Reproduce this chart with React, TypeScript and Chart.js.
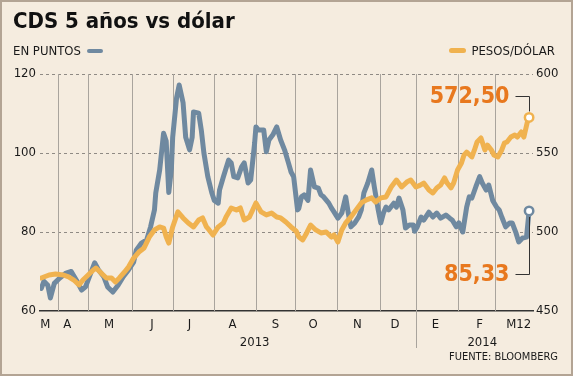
import React, { useEffect, useRef } from "react";
import { Chart, registerables } from "chart.js";

Chart.register(...registerables);

// ---- DATA (x = days from the start of the series) ----
const cdsDays = [1, 3, 6, 8, 11, 15, 20, 24, 28, 32, 35, 39, 42, 45, 49, 52, 56, 60, 64, 68, 72, 74, 78, 82, 85, 88, 89, 92, 95, 97, 99, 101, 102, 105, 107, 110, 112, 115, 117, 118, 122, 124, 126, 129, 132, 134, 137, 138, 141, 145, 147, 149, 152, 155, 157, 160, 162, 165, 166, 168, 172, 174, 176, 179, 182, 185, 188, 191, 193, 195, 198, 199, 201, 203, 206, 208, 211, 214, 216, 218, 222, 224, 226, 229, 232, 235, 237, 239, 242, 245, 247, 249, 252, 255, 257, 260, 262, 264, 266, 268, 272, 274, 276, 279, 281, 284, 287, 288, 290, 293, 295, 299, 302, 305, 308, 312, 315, 317, 320, 322, 325, 328, 330, 332, 335, 338, 340, 343, 345, 348, 351, 353, 355, 358, 361, 363, 366, 368, 371, 374, 376];
const cdsValues = [65.7, 67.5, 66.5, 63.3, 67.0, 68.3, 69.6, 70.0, 67.8, 65.3, 66.1, 69.6, 72.2, 70.4, 68.7, 66.1, 64.8, 66.5, 68.7, 70.4, 72.4, 75.4, 77.2, 78.0, 81.3, 85.6, 89.9, 95.7, 105.0, 103.0, 90.0, 96.0, 104.0, 114.0, 117.2, 112.7, 104.0, 100.8, 104.0, 110.4, 110.1, 105.8, 100.0, 94.0, 90.0, 88.0, 87.3, 90.6, 94.0, 98.2, 97.5, 94.0, 93.7, 96.5, 97.5, 92.4, 93.2, 102.5, 106.6, 105.8, 105.8, 100.3, 103.3, 104.6, 106.6, 103.3, 100.8, 97.5, 95.2, 94.0, 85.6, 86.0, 88.9, 89.4, 88.0, 95.7, 91.4, 91.1, 89.4, 88.9, 87.3, 86.1, 85.1, 83.5, 84.8, 88.9, 84.8, 81.3, 82.3, 83.8, 85.6, 89.9, 92.4, 95.7, 91.4, 85.6, 82.3, 84.8, 86.3, 85.6, 87.3, 86.3, 88.6, 85.6, 81.0, 81.8, 81.8, 80.2, 81.3, 83.8, 83.0, 85.0, 83.8, 84.8, 83.5, 84.3, 83.5, 83.0, 81.3, 82.3, 80.0, 86.3, 88.9, 88.6, 91.4, 94.0, 92.4, 90.6, 91.9, 88.0, 86.3, 85.6, 83.8, 81.3, 82.3, 82.3, 79.7, 77.5, 78.5, 78.7, 85.33];

const usdDays = [1, 7, 12, 18, 22, 26, 30, 33, 37, 41, 43, 47, 51, 55, 58, 61, 65, 68, 72, 76, 80, 84, 88, 92, 95, 97, 99, 102, 106, 110, 114, 118, 122, 125, 128, 130, 133, 137, 141, 143, 147, 151, 154, 157, 161, 166, 170, 174, 178, 182, 185, 189, 193, 197, 199, 202, 205, 208, 212, 216, 220, 224, 226, 229, 232, 235, 239, 243, 247, 251, 255, 258, 262, 266, 270, 274, 278, 282, 285, 289, 292, 295, 299, 302, 305, 308, 311, 313, 316, 318, 321, 324, 326, 328, 332, 334, 336, 339, 342, 344, 347, 349, 352, 355, 357, 359, 362, 365, 367, 370, 372, 375, 376];
const usdValues = [470.9, 472.8, 473.4, 472.8, 471.6, 469.6, 466.5, 469.6, 472.8, 476.0, 477.2, 474.0, 470.9, 470.9, 468.4, 470.9, 474.7, 477.8, 483.5, 487.3, 489.9, 496.8, 501.3, 503.2, 502.5, 497.0, 493.0, 503.2, 512.7, 508.9, 505.7, 503.2, 507.6, 508.9, 503.2, 501.3, 498.1, 503.2, 505.7, 509.5, 515.2, 513.9, 515.2, 507.6, 509.5, 518.4, 512.7, 510.8, 512.0, 509.5, 508.9, 506.3, 503.2, 500.5, 496.8, 495.0, 499.4, 504.4, 501.3, 499.4, 500.0, 496.8, 498.1, 493.7, 501.3, 505.7, 509.5, 514.0, 518.4, 520.3, 521.6, 519.0, 521.6, 522.2, 528.5, 532.9, 528.5, 531.6, 532.9, 528.5, 529.5, 531.0, 526.6, 524.7, 527.9, 529.8, 534.2, 531.0, 527.9, 531.0, 539.2, 543.7, 548.7, 550.6, 547.5, 551.9, 557.0, 559.5, 551.9, 555.0, 551.9, 548.7, 547.5, 551.9, 556.3, 557.0, 560.1, 561.4, 560.1, 563.3, 560.1, 570.9, 572.5];

const monthStarts = [14, 37, 71, 102, 134, 166, 196, 228, 261, 289, 321, 350];
const monthLabelDays = [4, 21, 53, 86, 115, 148, 181, 210, 244, 273, 304, 338, 368];
const monthLabels = ["M", "A", "M", "J", "J", "A", "S", "O", "N", "D", "E", "F", "M12"];
const yearLabels = ["2013", "2014"];
const yearLabelDays = [165, 340];
const yearBoundary = 289;
const cdsTicks = [60, 80, 100, 120];
const usdTicks = [450, 500, 550, 600];
const xMax = 379;

const BLUE = "#6f89a0";
const ORANGE = "#f0b24f";
const TAG = "#e8781e";
const BG = "#f5ecdf";
const FONT = '"DejaVu Sans Condensed", "DejaVu Sans", sans-serif';

const fmt = (v: number) => v.toFixed(2).replace(".", ",");

const decor = {
  id: "decor",
  beforeDatasetsDraw(chart: any) {
    const { ctx, chartArea, scales } = chart;
    ctx.save();
    // dashed horizontal grid
    ctx.strokeStyle = "#8f8a84";
    ctx.lineWidth = 1;
    ctx.setLineDash([3, 3]);
    cdsTicks.forEach((v) => {
      if (v === scales.y.min) return;
      const y = Math.round(scales.y.getPixelForValue(v)) + 0.5;
      ctx.beginPath();
      ctx.moveTo(chartArea.left, y);
      ctx.lineTo(chartArea.right, y);
      ctx.stroke();
    });
    ctx.setLineDash([]);
    // solid month separators
    ctx.strokeStyle = "#a9a49d";
    monthStarts.forEach((d) => {
      const x = Math.round(scales.x.getPixelForValue(d)) + 0.5;
      ctx.beginPath();
      ctx.moveTo(x, chartArea.top);
      ctx.lineTo(x, d === yearBoundary ? chartArea.bottom + 37 : chartArea.bottom);
      ctx.stroke();
    });
    ctx.restore();
  },
  afterDatasetsDraw(chart: any) {
    const { ctx, scales, chartArea } = chart;
    ctx.save();
    const tag = (dsIndex: number, text: string, dy: number) => {
      const meta = chart.getDatasetMeta(dsIndex);
      const pt = meta.data[meta.data.length - 1];
      const ly = Math.round(pt.y + dy) + 0.5;
      const px = Math.round(pt.x) + 0.5;
      ctx.strokeStyle = "#333";
      ctx.lineWidth = 1;
      ctx.beginPath();
      ctx.moveTo(px - 14, ly);
      ctx.lineTo(px, ly);
      ctx.lineTo(px, pt.y + (dy < 0 ? -6 : 6));
      ctx.stroke();
      ctx.fillStyle = TAG;
      ctx.font = `bold 23px ${FONT}`;
      ctx.textAlign = "right";
      ctx.textBaseline = "middle";
      ctx.fillText(text, px - 20, ly + 1);
    };
    tag(0, fmt(usdValues[usdValues.length - 1]), -21);
    tag(1, fmt(cdsValues[cdsValues.length - 1]), 63);
    [0, 1].forEach((i) => {
      const meta = chart.getDatasetMeta(i);
      const pt = meta.data[meta.data.length - 1];
      ctx.beginPath();
      ctx.arc(pt.x, pt.y, 4.2, 0, Math.PI * 2);
      ctx.fillStyle = "#fff";
      ctx.fill();
      ctx.lineWidth = 2.5;
      ctx.strokeStyle = i === 0 ? ORANGE : BLUE;
      ctx.stroke();
    });
    ctx.fillStyle = "#1a1a1a";
    ctx.font = `13px ${FONT}`;
    ctx.textAlign = "center";
    ctx.textBaseline = "middle";
    yearLabels.forEach((t, i) => {
      ctx.fillText(t, scales.x.getPixelForValue(yearLabelDays[i]), chartArea.bottom + 32);
    });
    ctx.restore();
  },
};

export default function App() {
  const ref = useRef<HTMLCanvasElement>(null);
  useEffect(() => {
    document.body.style.margin = "0";
    const chart = new Chart(ref.current as HTMLCanvasElement, {
      type: "line",
      data: {
        datasets: [
          {
            data: usdDays.map((d, i) => ({ x: d, y: usdValues[i] })),
            yAxisID: "y1",
            borderColor: ORANGE,
            borderWidth: 5,
            borderJoinStyle: "round",
            borderCapStyle: "round",
            pointRadius: 0,
            tension: 0,
          },
          {
            data: cdsDays.map((d, i) => ({ x: d, y: cdsValues[i] })),
            yAxisID: "y",
            borderColor: BLUE,
            borderWidth: 5,
            borderJoinStyle: "round",
            borderCapStyle: "round",
            pointRadius: 0,
            tension: 0,
          },
        ],
      },
      options: {
        animation: false,
        responsive: false,
        devicePixelRatio: 1,
        layout: { padding: { top: 74, left: 0, right: 0, bottom: 0 } },
        plugins: { legend: { display: false }, tooltip: { enabled: false } },
        scales: {
          x: {
            type: "linear",
            min: 0,
            max: xMax,
            afterBuildTicks: (s: any) => {
              s.ticks = monthLabelDays.map((v) => ({ value: v }));
            },
            afterFit: (s: any) => {
              s.height = 65;
            },
            grid: { display: false, drawTicks: false },
            border: { display: true, color: "#333", width: 1.5 },
            ticks: {
              autoSkip: false,
              maxRotation: 0,
              padding: 6,
              color: "#1a1a1a",
              font: { family: FONT, size: 13 },
              callback: (_v: any, i: number) => monthLabels[i],
            },
          },
          y: {
            position: "left",
            min: 60,
            max: 120,
            afterBuildTicks: (s: any) => {
              s.ticks = cdsTicks.map((v) => ({ value: v }));
            },
            afterFit: (s: any) => {
              s.width = 40;
            },
            border: { display: false },
            grid: { display: false, drawTicks: false },
            ticks: {
              padding: 4,
              color: "#1a1a1a",
              font: { family: FONT, size: 13 },
            },
          },
          y1: {
            position: "right",
            min: 450,
            max: 600,
            afterBuildTicks: (s: any) => {
              s.ticks = usdTicks.map((v) => ({ value: v }));
            },
            afterFit: (s: any) => {
              s.width = 40;
            },
            border: { display: false },
            grid: { display: false, drawTicks: false },
            ticks: {
              padding: 3,
              color: "#1a1a1a",
              font: { family: FONT, size: 13 },
            },
          },
        },
      } as any,
      plugins: [decor],
    } as any);
    return () => chart.destroy();
  }, []);

  return (
    <div
      style={{
        position: "fixed",
        left: 0,
        top: 0,
        width: 573,
        height: 376,
        background: BG,
        fontFamily: FONT,
        color: "#1a1a1a",
        overflow: "hidden",
      }}
    >
      <canvas ref={ref} width={573} height={376} style={{ position: "absolute", left: 0, top: 0 }} />
      <div style={{ position: "absolute", left: 13, top: 8, fontSize: 22, fontWeight: "bold", color: "#111", whiteSpace: "nowrap" }}>
        CDS 5 años vs dólar
      </div>
      <div style={{ position: "absolute", left: 13, top: 43, fontSize: 13, whiteSpace: "nowrap", display: "flex", alignItems: "center" }}>
        EN PUNTOS
        <span style={{ display: "inline-block", width: 16, height: 4, borderRadius: 2, background: BLUE, marginLeft: 6 }} />
      </div>
      <div style={{ position: "absolute", right: 18, top: 43, fontSize: 13, whiteSpace: "nowrap", display: "flex", alignItems: "center" }}>
        <span style={{ display: "inline-block", width: 17, height: 5, borderRadius: 3, background: ORANGE, marginRight: 5 }} />
        PESOS/DÓLAR
      </div>
      <div style={{ position: "absolute", right: 15, top: 350, fontSize: 11, whiteSpace: "nowrap" }}>
        FUENTE: BLOOMBERG
      </div>
      <div
        style={{
          position: "absolute",
          left: 0,
          top: 0,
          width: 573,
          height: 376,
          boxSizing: "border-box",
          border: "2px solid #b3a494",
          pointerEvents: "none",
        }}
      />
    </div>
  );
}
